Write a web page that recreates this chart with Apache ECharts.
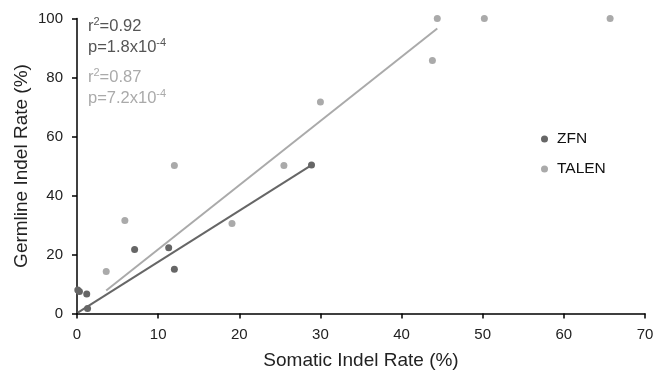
<!DOCTYPE html>
<html><head><meta charset="utf-8">
<script src="https://cdn.jsdelivr.net/npm/echarts@6/dist/echarts.min.js"></script>
<style>html,body{margin:0;padding:0;background:#fff}#c{width:654px;height:370px}</style>
</head><body><div id="c"></div>
<script>
var zfnX = [0.1, 0.3, 1.2, 1.3, 7.1, 11.3, 12.0, 28.9];
var zfnY = [8.0, 7.5, 6.6, 1.7, 21.7, 22.3, 15.0, 50.3];
var talenX = [3.6, 5.9, 12.0, 19.1, 25.5, 30.0, 43.8, 44.4, 50.2, 65.7];
var talenY = [14.2, 31.5, 50.2, 30.5, 50.2, 71.7, 85.8, 100, 100, 100];
var zfnFitX = [0.1, 28.9];
var zfnFitY = [0.3, 50.3];
var talenFitX = [3.6, 44.4];
var talenFitY = [7.8, 96.6];
var xTicks = [0, 10, 20, 30, 40, 50, 60, 70];
var yTicks = [0, 20, 40, 60, 80, 100];
var zfnStats = ['0.92', '1.8', '-4'];
var talenStats = ['0.87', '7.2', '-4'];

function pairs(xs, ys){ return xs.map(function(x,i){return [x, ys[i]];}); }
var FONT = 'Liberation Sans, Arial, sans-serif';
var DARK = '#666666', LIGHT = '#aaaaaa';

var chart = echarts.init(document.getElementById('c'));
function stat(s, color, top){
  return {
    type: 'text', left: 88, top: top,
    style: {
      text: '{a|r}{s|2}{a|=' + s[0] + '}\n{a|p=' + s[1] + 'x10}{s|' + s[2] + '}',
      rich: {
        a: {fontSize: 16.5, fontFamily: FONT, fill: color, lineHeight: 21},
        s: {fontSize: 11, fontFamily: FONT, fill: color, verticalAlign: 'top', lineHeight: 17}
      }
    }
  };
}
chart.setOption({
  animation: false,
  grid: {left: 77, right: 9, top: 18.5, bottom: 56.5, containLabel: false, outerBoundsMode: 'none'},
  xAxis: {
    type: 'value', min: xTicks[0], max: xTicks[xTicks.length-1], interval: 10,
    name: 'Somatic Indel Rate (%)', nameLocation: 'middle', nameGap: 38,
    nameTextStyle: {fontSize: 19, fontFamily: FONT, color: '#222'},
    axisLine: {lineStyle: {color: '#000', width: 1.5}},
    axisTick: {show: true, length: 5, lineStyle: {color: '#000', width: 1.5}},
    axisLabel: {fontSize: 15, fontFamily: FONT, color: '#222', margin: 14},
    splitLine: {show: false}
  },
  yAxis: {
    type: 'value', min: yTicks[0], max: yTicks[yTicks.length-1], interval: 20,
    name: 'Germline Indel Rate (%)', nameLocation: 'middle', nameGap: 46, nameMoveOverlap: false,
    nameTextStyle: {fontSize: 19, fontFamily: FONT, color: '#222'},
    axisLine: {show: true, lineStyle: {color: '#000', width: 1.5}},
    axisTick: {show: true, length: 5, lineStyle: {color: '#000', width: 1.5}},
    axisLabel: {fontSize: 15, fontFamily: FONT, color: '#222', margin: 14},
    splitLine: {show: false}
  },
  legend: {
    orient: 'vertical', left: 536, top: 126, itemGap: 14,
    icon: 'circle', itemWidth: 7, itemHeight: 7,
    textStyle: {fontSize: 15.5, fontFamily: FONT, color: '#111', padding: [0,0,0,4]},
    data: ['ZFN', 'TALEN']
  },
  series: [
    {name: 'ZFNfit', type: 'line', data: pairs(zfnFitX, zfnFitY), showSymbol: false, symbol: 'none',
     lineStyle: {color: DARK, width: 2}, z: 1},
    {name: 'TALENfit', type: 'line', data: pairs(talenFitX, talenFitY), showSymbol: false, symbol: 'none',
     lineStyle: {color: LIGHT, width: 2}, z: 1},
    {name: 'ZFN', type: 'scatter', data: pairs(zfnX, zfnY), symbolSize: 7,
     itemStyle: {color: DARK, opacity: 1}, z: 3},
    {name: 'TALEN', type: 'scatter', data: pairs(talenX, talenY), symbolSize: 7,
     itemStyle: {color: LIGHT, opacity: 1}, z: 2}
  ],
  graphic: [stat(zfnStats, '#555555', 16), stat(talenStats, LIGHT, 67)]
});
</script></body></html>
